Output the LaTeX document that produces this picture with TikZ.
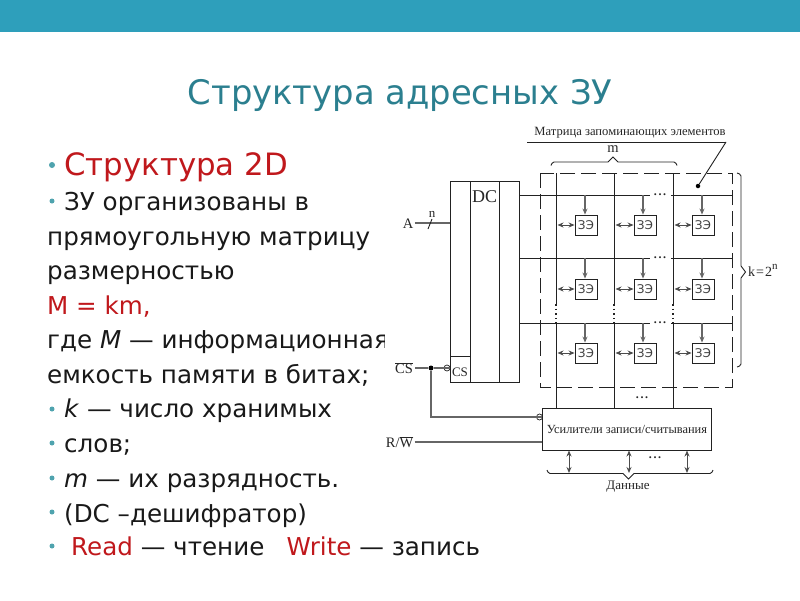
\documentclass[tikz,border=0pt]{standalone}
\usepackage{fontspec}
\setmainfont{DejaVu Sans}
\newfontfamily\serifd{Liberation Serif}
\usetikzlibrary{arrows.meta}
\definecolor{barc}{HTML}{2E9FBB}
\definecolor{titlec}{HTML}{2B7F8F}
\definecolor{redc}{HTML}{C0181C}
\definecolor{bulc}{HTML}{4FA3AE}
\definecolor{linec}{HTML}{222222}
\tikzset{
  body/.style={anchor=base west,inner sep=0pt,font=\fontsize{24.6}{24.6}\selectfont,text=black!90},
  bul/.style={circle,fill=bulc,inner sep=0pt,minimum size=5pt},
  wire/.style={draw=linec,line width=0.9pt},
  graywire/.style={draw=black!60,line width=1.2pt},
  boxd/.style={draw=linec,line width=0.9pt,fill=white,inner sep=0pt},
  cell/.style={draw=linec,line width=0.9pt,fill=white,minimum width=22pt,minimum height=20pt,inner sep=0pt,font=\fontsize{12}{12}\selectfont,text=black!75},
  lab/.style={inner sep=0pt,font=\serifd\fontsize{12.4}{12.4}\selectfont,text=black!85},
  bubble/.style={circle,draw=linec,line width=0.7pt,minimum size=6pt,inner sep=0pt},
  junction/.style={circle,fill=black,inner sep=0pt,minimum size=5pt},
  dbl/.style={draw=black!70,line width=1pt,{Stealth[length=6pt,width=5pt]}-{Stealth[length=6pt,width=5pt]}},
  down/.style={draw=black!60,line width=1.2pt,-{Stealth[length=6pt,width=5pt]}},
  dotsl/.style={inner sep=0pt,font=\serifd\bfseries\fontsize{12}{12}\selectfont,text=black!85},
  vdot/.style={draw=linec,line width=1.2pt,dash pattern=on 1.6pt off 3pt},
}
\newcommand{\tdots}{.\kern1.6pt.\kern1.6pt.}
\begin{document}
\begin{tikzpicture}[x=1pt,y=-1pt]
\useasboundingbox (0,0) rectangle (800,600);
\fill[white] (0,0) rectangle (800,600);
\fill[barc] (0,0) rectangle (800,32);
\node[inner sep=0pt,text=titlec,font=\fontsize{33.8}{33.8}\selectfont] (title) at (400,95) {Структура адресных ЗУ};

% body text
\node[bul,minimum size=6pt] (b1) at (52,165) {};
\node[body,text=redc,font=\fontsize{30.8}{30.8}\selectfont] (t1) at (64,175) {Структура 2D};
\node[bul] (b2) at (52,201) {};
\node[body] (t2) at (64,210) {ЗУ организованы в};
\node[body] (t3) at (47,245) {прямоугольную матрицу};
\node[body] (t4) at (47,279) {размерностью};
\node[body,text=redc] (t5) at (47,314) {M = km,};
\node[body] (t6) at (47,348) {где \textit{M} — информационная};
\node[body] (t7) at (47,383) {емкость памяти в битах;};
\node[bul] (b8) at (52,409) {};
\node[body] (t8) at (64,417) {\textit{k} — число хранимых};
\node[bul] (b9) at (52,443) {};
\node[body] (t9) at (64,452) {слов;};
\node[bul] (b10) at (52,478) {};
\node[body] (t10) at (64,487) {\textit{m} — их разрядность.};
\node[bul] (b11) at (52,512) {};
\node[body] (t11) at (64,522) {(DC –дешифратор)};
\node[bul] (b12) at (52,546) {};
\node[body] (t12) at (71,555) {\textcolor{redc}{Read} — чтение\hspace{0.9em}\textcolor{redc}{Write} — запись};

% picture ground hides the end of the long line
\fill[white] (385,125) rectangle (745,500);

% matrix frame
\draw[wire,dash pattern=on 15pt off 6pt,line width=1pt] (540,173) rectangle (732,387);

% DC block
\node[boxd,anchor=north west,minimum width=68.5pt,minimum height=201pt] (dc) at (450,181) {};
\coordinate (dci1t) at (470,181); \coordinate (dci1b) at (470,382);
\coordinate (dci2t) at (499,181); \coordinate (dci2b) at (499,382);
\draw[wire] (dci1t) -- (dci1b);
\draw[wire] (dci2t) -- (dci2b);
\coordinate (csl) at (450,356); \coordinate (csr) at (470,356);
\draw[wire] (csl) -- (csr);
\node[lab,font=\serifd\fontsize{18}{18}\selectfont] (dclab) at (484.5,197) {DC};
\node[lab,font=\serifd\fontsize{13}{13}\selectfont] (cslab) at (460,372) {CS};

% columns
\foreach \n/\x in {1/556,2/614,3/673}{
  \coordinate (ct\n) at (\x,173);
  \coordinate (cm\n) at (\x,304);
  \coordinate (cn\n) at (\x,323);
  \coordinate (cb\n) at (\x,408);
  \draw[wire] (ct\n) -- (cm\n);
  \draw[vdot] (cm\n) -- (cn\n);
  \draw[wire] (cn\n) -- (cb\n);
}

% rows
\foreach \r/\y in {1/195,2/258,3/323}{
  \coordinate (rl\r) at (519,\y);
  \coordinate (rg\r) at (650,\y);
  \coordinate (rh\r) at (671,\y);
  \coordinate (rr\r) at (732,\y);
  \draw[wire] (rl\r) -- (rg\r);
  \draw[wire] (rh\r) -- (rr\r);
  \node[dotsl] (rd\r) at (660,\y-0.8) {\tdots};
}

% cells
\foreach \r/\y in {1/225,2/289,3/353}{
  \pgfmathsetmacro{\ry}{\y==225?195:(\y==289?258:323)}
  \foreach \c/\x/\cx/\ax in {1/586/556/585,2/645/614/643,3/703/673/702}{
    \node[cell] (z\r\c) at (\x,\y) {ЗЭ};
    \coordinate (za\r\c) at (\ax,\ry);
    \draw[down] (za\r\c) -- (za\r\c |- z\r\c.north);
    \coordinate (zd\r\c) at (\cx+1.5,\y);
    \draw[dbl] (zd\r\c) -- (z\r\c.west);
  }
}

% dots
\node[dotsl] (cdots) at (642,397.5) {\tdots};
\node[dotsl] (bdots) at (655,458) {\tdots};

% amplifier block
\node[boxd,anchor=north west,minimum width=169pt,minimum height=42pt,lab,draw=linec] (amp) at (542,408) {Усилители записи/считывания};

% input A
\node[lab,font=\serifd\fontsize{14.5}{14.5}\selectfont] (A) at (408,224) {A};
\draw[graywire] (A.east) ++(1.5,-1) coordinate (Ae) -- (dc.west |- Ae);
\coordinate (s1) at (428,229); \coordinate (s2) at (432,219);
\draw[wire] (s1) -- (s2);
\node[lab,font=\serifd\fontsize{13}{13}\selectfont] (n) at (432,214) {n};

% CS
\node[lab,font=\serifd\fontsize{14.5}{14.5}\selectfont] (CS) at (404,368) {$\overline{\hbox{\serifd CS}}$};
\node[junction] (j) at (431,368) {};
\node[bubble] (bcs) at (447,368) {};
\coordinate (csa) at (415,368);
\draw[graywire] (csa) -- (j);
\draw[graywire] (j) -- (dc.west |- j);
\node[bubble] (bamp) at (539.5,417) {};
\draw[graywire] (j) |- (amp.west |- bamp);

% R/W
\node[lab,anchor=east,font=\serifd\fontsize{14.5}{14.5}\selectfont] (RW) at (413.5,442) {R/$\overline{\hbox{\serifd W}}$};
\draw[graywire] (RW.east) ++(1,0) coordinate (RWe) -- (amp.west |- RWe);

% data arrows and brace
\foreach \k/\x in {1/569,2/629,3/687}{
  \coordinate (da\k) at (\x,450.5);
  \coordinate (db\k) at (\x,473);
  \draw[dbl] (da\k) -- (db\k);
}
\coordinate (bbl) at (547,470); \coordinate (bbr) at (713,470);
\draw[wire] (bbl) to[bend right=30] (550,473.5) -- (623,473.5) -- (628.5,479) -- (634,473.5) -- (710,473.5) to[bend right=30] (bbr);
\node[lab,font=\serifd\fontsize{13}{13}\selectfont] (data) at (628,487) {Данные};

% top brace
\draw[wire] (551,165.5) to[bend left=30] (554,162) -- (608,162) -- (613,157) -- (618,162) -- (674,162) to[bend left=30] (677,165.5);
\node[lab,font=\serifd\fontsize{14.5}{14.5}\selectfont] (m) at (613,149) {m};

% matrix label
\node[lab,font=\serifd\fontsize{12.6}{12.6}\selectfont] (mat) at (630,133) {Матрица запоминающих элементов};
\coordinate (ul) at (527,142); \coordinate (ur) at (726,142);
\draw[wire] (ul) -- (ur);
\node[junction,minimum size=4.5pt] (md) at (698,186) {};
\draw[wire] (ur) -- (md);

% right brace
\draw[wire] (737,173) to[bend left=30] (741,176) -- (741,266) -- (745.5,272) -- (741,278) -- (741,364) to[bend left=30] (737,367);
\node[lab,anchor=west,font=\serifd\fontsize{14}{14}\selectfont] (k) at (748,270.5) {k\kern1pt=\kern1pt2\raisebox{1.1ex}{\fontsize{11}{11}\selectfont n}};
\end{tikzpicture}
\end{document}
